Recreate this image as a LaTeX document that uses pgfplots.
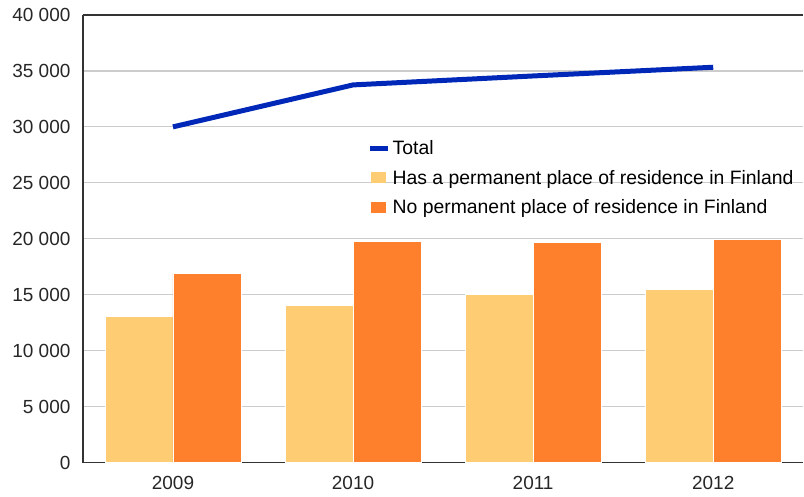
\documentclass[border=0pt]{standalone}
\usepackage{pgfplots}
\pgfplotsset{compat=1.18}
\usepackage{fontspec}
\setmainfont{Liberation Sans}

\definecolor{totalblue}{RGB}{0,40,184}
\definecolor{lightbar}{RGB}{254,205,115}
\definecolor{orangebar}{RGB}{254,127,44}
\definecolor{gridgray}{RGB}{204,204,204}
\definecolor{axisdark}{RGB}{51,51,51}

\pgfplotsset{
    linelegend/.style={legend image code/.code={\draw[##1] (0pt,0pt) -- (18pt,0pt);}},
    boxlegend/.style={legend image code/.code={\fill[##1, draw=none] (1pt,-5pt) rectangle (16pt,6pt);}},
}

\begin{document}
\begin{tikzpicture}
\begin{axis}[
    scale only axis,
    width=721pt, height=448pt,
    xmin=-0.5, xmax=3.5,
    ymin=0, ymax=40000,
    xtick={0,1,2,3},
    xticklabels={2009,2010,2011,2012},
    ytick={0,5000,...,40000},
    scaled y ticks=false,
    yticklabel={\pgfmathprintnumber[fixed,precision=0,1000 sep={\ }]{\tick}},
    major tick length=0pt,
    axis x line*=bottom,
    axis y line*=left,
    axis line style={-, axisdark, line width=1.5pt},
    ymajorgrids,
    grid style={gridgray, line width=1.2pt},
    tick label style={font=\fontsize{19}{22}\selectfont, text=black!85},
    yticklabel style={xshift=-9pt},
    xticklabel style={yshift=-10pt},
    /pgf/number format/assume math mode=true,
    legend style={draw=none, fill=none, at={(0.395,0.724)}, anchor=north west,
        font=\fontsize{19.4}{22}\selectfont, row sep=10pt, inner sep=0pt},
    legend cell align=left,
    after end axis/.code={
        \draw[axisdark, line width=1.5pt] (rel axis cs:0,1) -- (rel axis cs:1,1);
    },
]
\addplot[totalblue, line width=5pt, linelegend]
    coordinates {(0,30000) (1,33750) (2,34550) (3,35330)};
\addlegendentry{Total}

\addplot[ybar, bar width=68pt, bar shift=-34pt, fill=lightbar, draw=white, line width=0.8pt, boxlegend]
    coordinates {(0,13050) (1,14060) (2,15040) (3,15490)};
\addlegendentry{Has a permanent place of residence in Finland}

\addplot[ybar, bar width=68pt, bar shift=34pt, fill=orangebar, draw=white, line width=0.8pt, boxlegend]
    coordinates {(0,16940) (1,19790) (2,19640) (3,19940)};
\addlegendentry{No permanent place of residence in Finland}
\end{axis}
\path (current axis.south west) ++(-83pt,-34pt);
\path (current axis.north east) ++(0pt,15pt);
\end{tikzpicture}
\end{document}
